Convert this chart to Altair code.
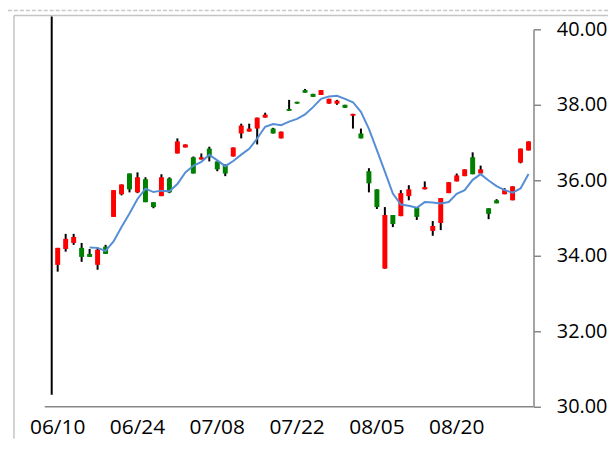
import altair as alt
import pandas as pd

dates = ["06/10","06/11","06/12","06/13","06/14","06/17","06/18","06/19","06/20","06/21",
         "06/24","06/25","06/26","06/27","06/28","07/01","07/02","07/03","07/04","07/05",
         "07/08","07/09","07/10","07/11","07/12","07/15","07/16","07/17","07/18","07/19",
         "07/22","07/23","07/24","07/25","07/26","07/29","07/30","07/31","08/01","08/02",
         "08/05","08/06","08/07","08/08","08/09","08/12","08/13","08/14","08/16","08/19",
         "08/20","08/21","08/22","08/23","08/26","08/27","08/28","08/29","08/30","09/02"]

opens = [33.76,34.18,34.34,34.21,34.05,33.76,34.24,35.03,35.63,36.18,
         35.68,36.03,35.42,35.58,36.05,36.71,36.87,36.61,36.55,36.84,
         36.50,36.42,36.63,37.24,37.29,37.37,37.66,37.37,37.11,37.89,
         38.08,38.39,38.29,38.26,38.03,38.03,38.00,37.71,37.24,36.24,
         35.76,33.66,35.08,35.05,35.58,35.29,35.76,34.66,34.87,35.66,
         35.97,36.11,36.61,36.18,35.26,35.47,35.63,35.47,36.47,36.79]
highs = [34.21,34.58,34.58,34.34,34.18,34.21,34.29,35.74,35.89,36.18,
         36.21,36.08,35.42,36.16,36.08,37.11,36.95,36.63,36.71,36.89,
         36.50,36.42,36.87,37.50,37.50,37.66,37.79,37.39,37.29,38.13,
         38.08,38.42,38.29,38.39,38.16,38.13,38.00,37.76,37.37,36.32,
         35.76,35.29,35.08,35.74,35.87,35.29,35.97,34.92,35.53,35.95,
         36.18,36.29,36.74,36.39,35.26,35.50,35.79,35.84,36.84,37.03]
lows = [33.58,34.11,34.29,33.84,33.97,33.63,34.05,35.03,35.60,35.68,
        35.66,35.42,35.26,35.58,35.66,36.71,36.87,36.18,36.55,36.50,
        36.24,36.11,36.63,37.11,37.29,36.95,37.66,37.24,37.11,37.84,
        38.03,38.32,38.21,38.26,38.03,38.00,37.92,37.37,37.11,35.68,
        35.24,33.66,34.76,35.05,35.47,34.95,35.76,34.53,34.68,35.66,
        35.97,36.11,36.16,36.18,34.97,35.39,35.63,35.47,36.45,36.79]
closes = [34.21,34.45,34.50,33.97,33.97,34.16,34.05,35.74,35.89,35.76,
          36.08,35.42,35.29,36.08,35.68,37.03,36.95,36.18,36.61,36.61,
          36.29,36.18,36.87,37.45,37.37,37.66,37.74,37.24,37.29,37.84,
          38.03,38.32,38.21,38.39,38.16,38.11,37.92,37.76,37.11,35.92,
          35.29,35.08,34.84,35.66,35.76,35.03,35.82,34.79,35.53,35.95,
          36.13,36.29,36.16,36.29,35.11,35.39,35.74,35.84,36.84,37.03]

label_dates = ["06/10","06/24","07/08","07/22","08/05","08/20"]
y_ticks = [30, 32, 34, 36, 38, 40]

df = pd.DataFrame({"date": dates, "open": opens, "high": highs, "low": lows, "close": closes})

AXIS_GRAY = "#868686"
FONT = "Open Sans"

x_enc = alt.X("date:N", sort=None,
              scale=alt.Scale(range=[9, 491], paddingInner=0, paddingOuter=0),
              axis=alt.Axis(values=label_dates, domain=False, ticks=False, tickSize=0,
                            labelAngle=0, labelFontSize=21, labelFont=FONT, labelColor="#000000",
                            labelPadding=10, grid=False, title=None))
y_scale = alt.Scale(domain=[30, 40], nice=False, zero=False)
y_axis = alt.Axis(orient="right", values=y_ticks, format=".2f", tickSize=7, tickColor=AXIS_GRAY,
                  tickWidth=1.5, domainColor=AXIS_GRAY, domainWidth=1.5, grid=False,
                  labelFontSize=20, labelFont=FONT, labelColor="#000000", labelPadding=16,
                  title=None)

base = alt.Chart(df)

wicks = base.mark_rule(color="#000000", strokeWidth=2).encode(
    x=x_enc, y=alt.Y("low:Q", scale=y_scale, axis=y_axis), y2="high:Q")

bodies = base.mark_bar(size=5).encode(
    x=x_enc, y=alt.Y("open:Q", scale=y_scale, axis=y_axis), y2="close:Q",
    color=alt.condition("datum.close >= datum.open", alt.value("#FF0000"), alt.value("#008000")))

ma = base.transform_window(
    ma="mean(close)", cnt="count()", frame=[-4, 0]
).transform_filter("datum.cnt == 5").mark_line(color="#558ED5", strokeWidth=2).encode(
    x=x_enc, y=alt.Y("ma:Q", scale=y_scale, axis=y_axis))

one = pd.DataFrame({"k": [0]})

def deco(x, x2, y, y2, color, width, dash=None):
    kw = dict(color=color, strokeWidth=width)
    if dash:
        kw["strokeDash"] = dash
    return alt.Chart(one).mark_rule(**kw).encode(
        x=alt.value(x), x2=alt.value(x2), y=alt.value(y), y2=alt.value(y2))

bottom_axis = deco(0, 492, 380, 380, AXIS_GRAY, 1.5)
frame_top = deco(-31, 567, -14, -14, "#c4c4c4", 1.5)
frame_left = deco(-31, -31, -14, 412, "#c4c4c4", 1.5)
dashed_top = deco(-37, 567, -19, -19, "#c8c8c8", 1.5, [4, 2])
black_line = deco(7, 7, -13, 368, "#000000", 2)

chart = alt.layer(
    frame_top, frame_left, dashed_top, black_line, bottom_axis, wicks, bodies, ma
).properties(
    width=492, height=380,
    padding={"left": 37, "top": 20, "right": 75, "bottom": 32},
    autosize=alt.AutoSizeParams(type="none"),
    background="#ffffff"
).configure_view(stroke=None)

chart.save("out.html", embed_options={"renderer": "svg", "actions": False})
